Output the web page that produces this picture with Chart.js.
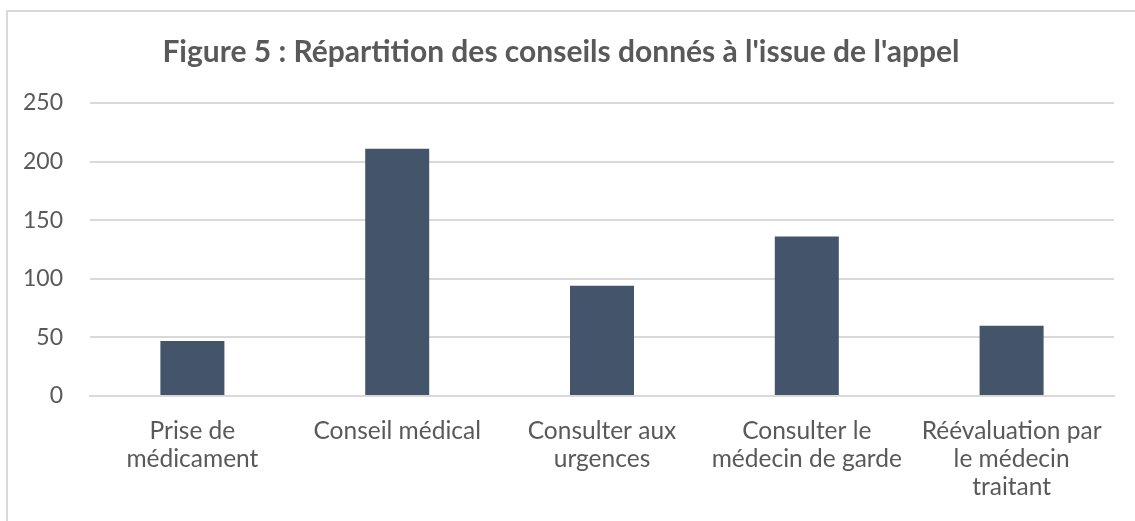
<!DOCTYPE html>
<html>
<head>
<meta charset="utf-8">
<script src="https://cdn.jsdelivr.net/npm/chart.js@4"></script>
<style>
  html, body { margin: 0; padding: 0; background: #fff; }
  #wrap { position: absolute; left: 0; top: 0; width: 1135px; height: 521px; }
  #frame { position: absolute; left: 6px; top: 10px; width: 1140px; height: 520px;
           border-left: 2px solid #d9d9d9; border-top: 2px solid #d9d9d9; box-sizing: border-box; }
  canvas { position: absolute; left: 0; top: 0; }
</style>
</head>
<body>
<div id="wrap">
  <div id="frame"></div>
  <canvas id="c" width="1135" height="521"></canvas>
</div>
<script>
const titleText = "Figure 5 : Répartition des conseils donnés à l'issue de l'appel";
const categories = [
  ["Prise de", "médicament"],
  ["Conseil médical"],
  ["Consulter aux", "urgences"],
  ["Consulter le", "médecin de garde"],
  ["Réévaluation par", "le médecin", "traitant"]
];
const values = [47, 211, 94, 136, 60];
const yTicks = [0, 50, 100, 150, 200, 250];

const FONT = "Lato, 'Open Sans', sans-serif";
const TXT = "#595959";

new Chart(document.getElementById('c'), {
  type: 'bar',
  data: {
    labels: categories,
    datasets: [{
      data: values,
      backgroundColor: '#44546a',
      borderWidth: 0,
      categoryPercentage: 1.0,
      barPercentage: 0.3125
    }]
  },
  options: {
    responsive: false,
    animation: false,
    devicePixelRatio: 1,
    layout: { padding: { left: 8, right: 21, top: 0, bottom: 0 } },
    plugins: {
      legend: { display: false },
      tooltip: { enabled: false },
      title: {
        display: true,
        text: titleText,
        color: TXT,
        font: { family: FONT, size: 30, weight: 'bold' },
        padding: { top: 34, bottom: 33 }
      }
    },
    scales: {
      y: {
        min: yTicks[0],
        max: yTicks[yTicks.length - 1],
        afterBuildTicks: (s) => { s.ticks = yTicks.map(v => ({ value: v })); },
        ticks: { color: TXT, font: { family: FONT, size: 23 }, padding: 27 },
        grid: { color: '#d9d9d9', lineWidth: 2, drawTicks: false },
        border: { display: false },
        afterFit: (s) => { s.width = 82; }
      },
      x: {
        ticks: { color: TXT, font: { family: FONT, size: 24.5, lineHeight: 1.143 }, padding: 21, maxRotation: 0, autoSkip: false },
        grid: { display: false, drawTicks: false },
        border: { display: true, color: '#d9d9d9', width: 2 },
        afterFit: (s) => { s.height = 125; }
      }
    }
  }
});
</script>
</body>
</html>
